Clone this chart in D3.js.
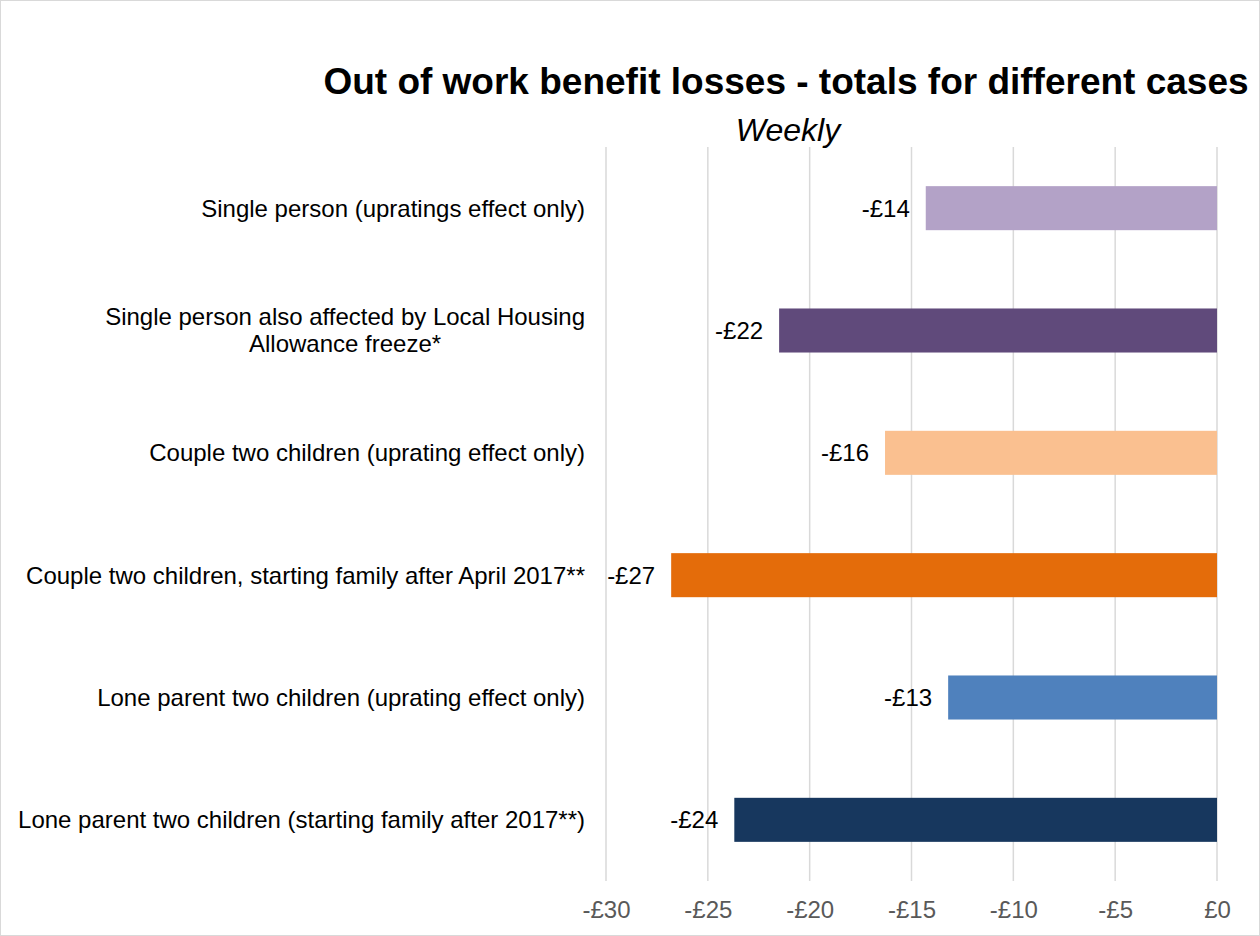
<!DOCTYPE html>
<html><head><meta charset="utf-8">
<script src="https://cdn.jsdelivr.net/npm/d3@7"></script>
<style>body{margin:0;background:#fff;font-family:"Liberation Sans",Arial,sans-serif;}</style>
</head><body>
<svg id="c" width="1260" height="936"></svg>
<script>
const categories = [
  ["Single person (upratings effect only)"],
  ["Single person also affected by Local Housing", "Allowance freeze*"],
  ["Couple two children (uprating effect only)"],
  ["Couple two children, starting family after April 2017**"],
  ["Lone parent two children (uprating effect only)"],
  ["Lone parent two children (starting family after 2017**)"]
];
const values = [-14.3, -21.5, -16.3, -26.8, -13.2, -23.7];
const valueLabels = ["-£14", "-£22", "-£16", "-£27", "-£13", "-£24"];
const colors = ["#B3A2C7", "#604A7B", "#FAC090", "#E46C0A", "#4F81BD", "#17375E"];
const tickValues = [-30, -25, -20, -15, -10, -5, 0];
const tickLabels = ["-£30", "-£25", "-£20", "-£15", "-£10", "-£5", "£0"];

const FONT = "Liberation Sans, Arial, sans-serif";
const svg = d3.select("#c");
svg.append("rect").attr("x",0.5).attr("y",0.5).attr("width",1259).attr("height",935)
  .attr("fill","#fff").attr("stroke","#d9d9d9");

const x = d3.scaleLinear().domain([-30, 0]).range([606, 1217]);
const y = d3.scaleBand().domain(d3.range(categories.length)).range([147, 881]).paddingInner(0.64).paddingOuter(0.32);

// gridlines
svg.append("g").selectAll("line").data(tickValues).join("line")
  .attr("x1", d => x(d)).attr("x2", d => x(d)).attr("y1", 147).attr("y2", 881)
  .attr("stroke", "#d9d9d9").attr("stroke-width", 1.5);

// axis labels
const ax = svg.append("g").attr("transform", "translate(0,881)")
  .call(d3.axisBottom(x).tickValues(tickValues).tickFormat((d,i) => tickLabels[i]).tickSize(0).tickPadding(20));
ax.select(".domain").remove();
ax.selectAll("text").attr("font-size", 24).attr("fill", "#595959").attr("font-family", FONT);

// bars
svg.append("g").selectAll("rect").data(values).join("rect")
  .attr("x", d => x(d)).attr("width", d => x(0) - x(d))
  .attr("y", (d,i) => y(i)).attr("height", y.bandwidth())
  .attr("fill", (d,i) => colors[i]);

// value labels
svg.append("g").selectAll("text").data(values).join("text")
  .attr("x", d => x(d) - 16).attr("y", (d,i) => y(i) + y.bandwidth()/2)
  .attr("dy", "0.35em").attr("text-anchor", "end").attr("font-size", 24).attr("fill", "#000")
  .text((d,i) => valueLabels[i]);

// category labels: block right-aligned at 585, lines centered within block
const right = 585;
const cg = svg.append("g").attr("font-size", 24).attr("fill", "#000");
categories.forEach((lines, i) => {
  const g = cg.append("g");
  const cy = y(i) + y.bandwidth()/2;
  const texts = lines.map((line, j) => g.append("text")
    .attr("y", cy + (j - (lines.length-1)/2) * 27).attr("dy", "0.35em").text(line));
  const widths = texts.map(t => t.node().getComputedTextLength());
  const maxW = d3.max(widths);
  texts.forEach((t, j) => t.attr("x", right - maxW/2).attr("text-anchor", "middle"));
});

// title
svg.append("text").attr("x", 786).attr("y", 94).attr("text-anchor", "middle")
  .attr("font-size", 37).attr("font-weight", "bold").attr("fill", "#000")
  .text("Out of work benefit losses - totals for different cases");
svg.append("text").attr("x", 788).attr("y", 141).attr("text-anchor", "middle")
  .attr("font-size", 32).attr("font-style", "italic").attr("fill", "#000")
  .text("Weekly");
</script>
</body></html>
